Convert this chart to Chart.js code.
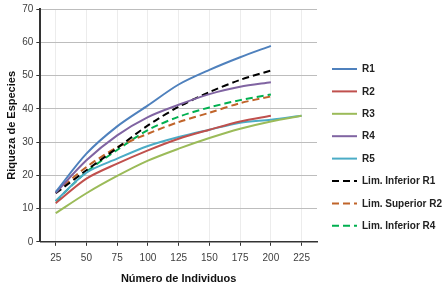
<!DOCTYPE html>
<html>
<head>
<meta charset="utf-8">
<script src="https://cdn.jsdelivr.net/npm/chart.js@4.4.0/dist/chart.umd.min.js"></script>
<style>
  html, body { margin: 0; padding: 0; background: #fff; }
  #wrap { width: 445px; height: 283px; }
</style>
</head>
<body>
<div id="wrap"><canvas id="myChart" width="445" height="283"></canvas></div>
<script>
// datos
const individuos = ["25", "50", "75", "100", "125", "150", "175", "200", "225"];
const r1 = [15, 26.5, 34.7, 41, 47.3, 51.7, 55.5, 58.9, null];
const r2 = [11.6, 19, 23.5, 27.5, 31, 33.7, 36.2, 37.9, null];
const r3 = [8.6, 14.6, 19.8, 24.4, 28, 31.2, 34, 36.2, 37.9];
const r4 = [14.7, 24.5, 32, 37.5, 41.2, 44.4, 46.6, 48, null];
const r5 = [12.3, 20.8, 25, 28.8, 31.5, 33.7, 35.8, 36.7, 37.9];
const limInfR1 = [14.6, 21.5, 28.2, 35, 40.6, 45, 48.7, 51.5, null];
const limSupR2 = [14.8, 22.5, 28.4, 32.5, 36, 38.8, 41.7, 43.7, null];
const limInfR4 = [12.2, 21, 27.6, 33.6, 37.6, 40.4, 42.6, 44.3, null];

const yTicks = [0, 10, 20, 30, 40, 50, 60, 70];

const linea = (label, data, color, dash) => ({
    label: label,
    data: data,
    borderColor: color,
    backgroundColor: color,
    borderWidth: 2,
    borderDash: dash || [],
    pointRadius: 0,
    tension: 0.3,
    fill: false
});

const dash = [7, 4];

// leyenda a la derecha, dibujada a mano estilo excel
const leyenda = {
    id: 'leyenda_excel',
    afterDraw: (chart) => {
        const c = chart.ctx;
        const x0 = chart.chartArea.right + 15;
        const y0 = 69;
        const paso = 22.4;
        c.save();
        c.font = "bold 10px Arial, 'Liberation Sans'";
        c.textBaseline = 'middle';
        c.textAlign = 'left';
        chart.data.datasets.forEach((ds, i) => {
            const y = y0 + i * paso;
            c.beginPath();
            c.strokeStyle = ds.borderColor;
            c.lineWidth = 2;
            c.setLineDash(ds.borderDash);
            c.moveTo(x0, y);
            c.lineTo(x0 + 25, y);
            c.stroke();
            c.setLineDash([]);
            c.fillStyle = '#222';
            c.fillText(ds.label, x0 + 30, y + 0.5);
        });
        c.restore();
    }
};

const ctx = document.getElementById("myChart").getContext("2d");

const myChart = new Chart(ctx, {
    type: "line",
    plugins: [leyenda],
    data: {
        labels: individuos,
        datasets: [
            linea("R1", r1, "#4F81BD"),
            linea("R2", r2, "#C0504D"),
            linea("R3", r3, "#9BBB59"),
            linea("R4", r4, "#8064A2"),
            linea("R5", r5, "#4BACC6"),
            linea("Lim. Inferior R1", limInfR1, "#000000", dash),
            linea("Lim. Superior R2", limSupR2, "#C0642A", dash),
            linea("Lim. Inferior R4", limInfR4, "#00B050", dash)
        ]
    },
    options: {
        responsive: false,
        animation: false,
        layout: { padding: { left: 5, right: 128, top: 2, bottom: -3 } },
        plugins: {
            tooltip: { enabled: false },
            legend: { display: false }
        },
        scales: {
            x: {
                type: "category",
                offset: true,
                grid: { color: "#ececec", tickColor: "#333", tickLength: 4, drawTicks: true },
                border: { color: "#333", width: 1.5 },
                ticks: { color: "#404040", padding: 6, maxRotation: 0,
                         font: { family: "Arial, 'Liberation Sans'", size: 10 } },
                title: {
                    display: true,
                    text: "Número de Individuos",
                    color: "#111",
                    padding: { top: 3, bottom: 0 },
                    font: { family: "Arial, 'Liberation Sans'", size: 11, weight: "bold" }
                }
            },
            y: {
                min: 0,
                max: 70,
                afterBuildTicks: (axis) => { axis.ticks = yTicks.map(v => ({ value: v })); },
                grid: { color: "#bdbdbd", tickColor: "#333", tickLength: 4 },
                border: { color: "#333", width: 2 },
                ticks: { color: "#404040", padding: 3,
                         font: { family: "Arial, 'Liberation Sans'", size: 10 } },
                title: {
                    display: true,
                    text: "Riqueza de Especies",
                    color: "#111",
                    padding: { top: 0, bottom: 1 },
                    font: { family: "Arial, 'Liberation Sans'", size: 11, weight: "bold" }
                }
            }
        }
    }
});
</script>
</body>
</html>
